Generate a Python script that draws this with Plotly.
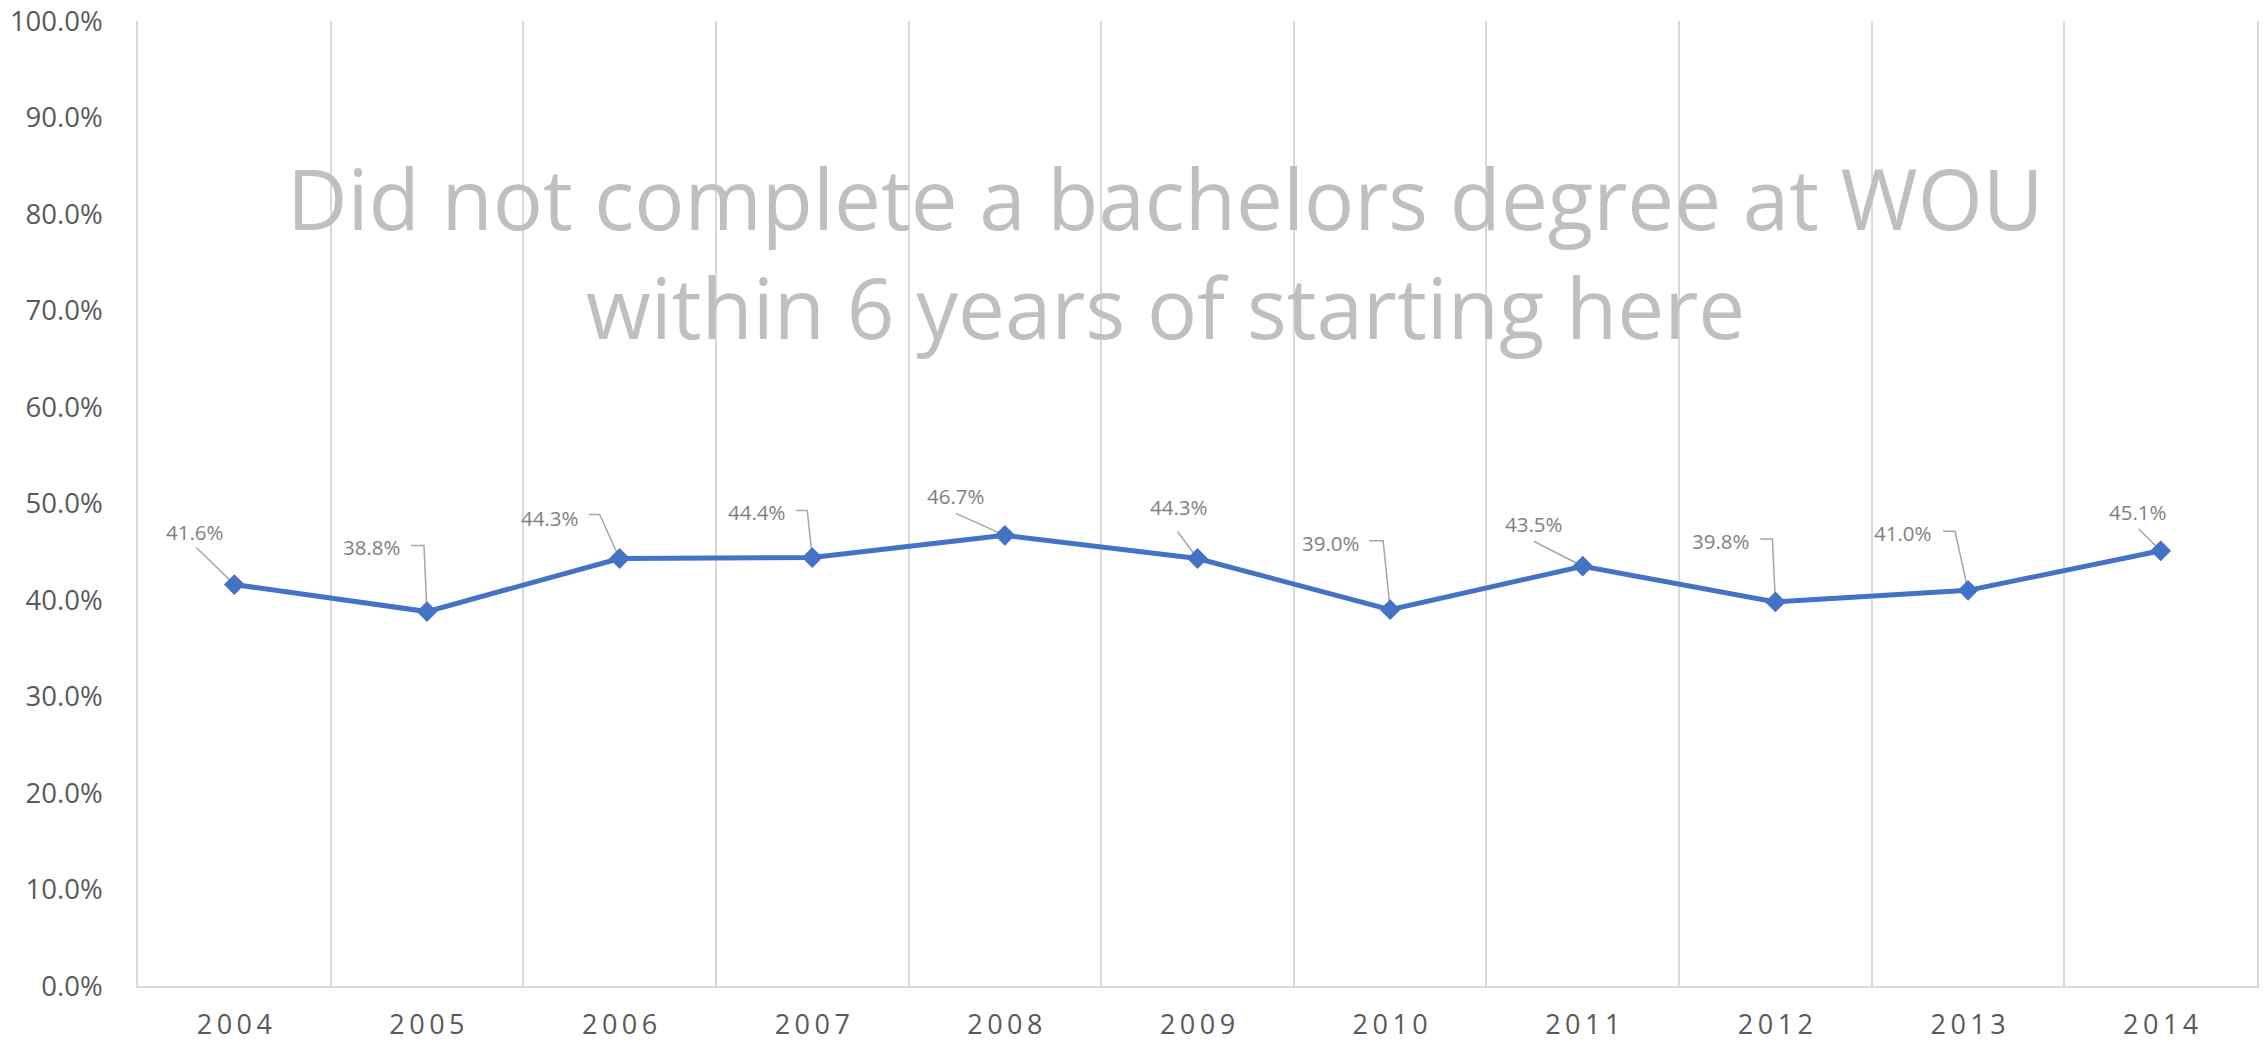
import plotly.graph_objects as go

years = ["2004", "2005", "2006", "2007", "2008", "2009", "2010", "2011", "2012", "2013", "2014"]
values = [41.6, 38.8, 44.3, 44.4, 46.7, 44.3, 39.0, 43.5, 39.8, 41.0, 45.1]
title_lines = ["Did not complete a bachelors degree at WOU", "within 6 years of starting here"]

# label offsets (pixels) relative to each point, and leader paths (pixel offsets)
label_dx = [-39, -55, -70, -55, -49, -19, -59, -49, -54, -65, -23]
label_dy = [53, 65, 41, 46, 39, 52, 67, 42, 61, 57, 39]
leaders = [
    [(-38, 37)],
    [(-16, 66), (-3, 66)],
    [(-31, 44), (-20, 44)],
    [(-16, 47), (-5, 47)],
    [(-49, 22)],
    [(-20, 27)],
    [(-21, 69), (-7, 69)],
    [(-49, 25)],
    [(-15, 63), (-3, 63)],
    [(-25, 59), (-13, 59)],
    [(-22, 22)],
]

FONT = "Open Sans"
idx = list(range(len(years)))
bounds = [i - 0.5 for i in range(len(years) + 1)]

fig = go.Figure()

shapes = []
for i, v, pts in zip(idx, values, leaders):
    path = "M " + " L ".join(f"{px},{py}" for px, py in pts) + " L 0,0"
    shapes.append(dict(type="path", xref="x", yref="y", xsizemode="pixel", ysizemode="pixel",
                       xanchor=i, yanchor=v, path=path,
                       line=dict(color="#A6A6A6", width=1.5), layer="below"))

fig.add_trace(go.Scatter(
    x=idx, y=values, mode="lines+markers",
    line=dict(color="#4472C4", width=5),
    marker=dict(symbol="diamond", size=16, color="#4472C4"),
    hoverinfo="skip", showlegend=False,
))

annotations = []
for i, v, dx, dy in zip(idx, values, label_dx, label_dy):
    annotations.append(dict(x=i, y=v, xref="x", yref="y", text=f"{v:.1f}%", showarrow=False,
                            xshift=dx, yshift=dy, xanchor="center", yanchor="middle",
                            font=dict(family=FONT, size=20.5, color="#7F7F7F")))

title_y = [0.8166, 0.7046]
for t, ty in zip(title_lines, title_y):
    annotations.append(dict(x=0.485, y=ty, xref="paper", yref="paper", text=t, showarrow=False,
                            xanchor="center", yanchor="middle",
                            font=dict(family=FONT, size=83.5, color="#BFBFBF")))

fig.update_layout(
    width=2264, height=1045,
    margin=dict(l=138, r=7, t=21, b=59, autoexpand=False),
    paper_bgcolor="white", plot_bgcolor="white",
    shapes=shapes, annotations=annotations,
    xaxis=dict(range=[-0.5, len(years) - 0.5], autorange=False, showgrid=False, automargin=False,
               minor=dict(tickvals=bounds, showgrid=True, gridcolor="#D9D9D9", gridwidth=1.5, ticks=""),
               showline=True, linecolor="#D9D9D9", linewidth=1.5, ticks="",
               tickmode="array", tickvals=idx, ticktext=["\u2009".join(y) for y in years],
               tickfont=dict(family=FONT, size=27, color="#595959"),
               ticklabelstandoff=14, zeroline=False, fixedrange=True),
    yaxis=dict(range=[0, 100], autorange=False, dtick=10, tickformat=".1f", ticksuffix="%",
               showgrid=False, zeroline=False, showline=True, mirror=True,
               linecolor="#D9D9D9", linewidth=1.5, ticks="", automargin=False,
               tickfont=dict(family=FONT, size=27.5, color="#595959"),
               ticklabelstandoff=28, fixedrange=True),
)

fig.write_html("out.html", config={"displayModeBar": False},
               post_script="document.body.style.margin='0';document.body.style.overflow='hidden';")
